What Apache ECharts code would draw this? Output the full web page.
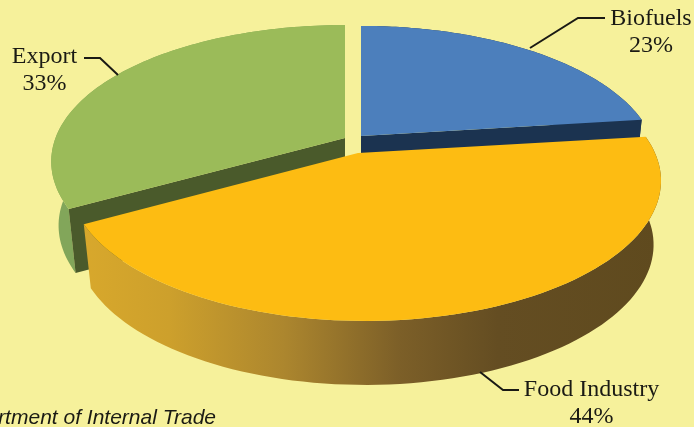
<!DOCTYPE html>
<html><head><meta charset="utf-8">
<style>html,body{margin:0;padding:0;background:#f6f19b}#c{width:694px;height:427px}</style>
<script src="https://cdn.jsdelivr.net/npm/echarts@6/dist/echarts.min.js"></script>
</head><body><div id="c"></div>
<script>
const categories = ['Biofuels', 'Food Industry', 'Export'];
const values = [23, 44, 33];
const drawOrder = [0, 2, 1];
const sourceText = 'Department of Internal Trade';

const topColors = ['#4c7fbc', '#fdbc12', '#9bbb59'];
const faceColors = ['#1b3350', null, '#4a5a2b'];
const centers = [[361, 136], [365, 153], [345, 138]];
const apexes = [[361, 136], [358, 153], [345, 138]];
const radiiX = [290, 290, 289.5];
const perspX = [0.2, 0.2, 0.17];
const radiiY = [133, 133, 134];
const perspY = [0.208, 0.208, 0.186];
const labelAnchors = [[651, 32], [591.5, 403], [44.5, 70]];
const leaders = [
  [[605, 18], [578, 18], [530, 48]],
  [[519, 390], [503, 390], [480, 372]],
  [[84, 58], [100, 58], [118, 75]]
];
const DEPTH = 64, INSET = 0.975;

function project(i, a) {
  const c = centers[i], u = Math.sin(a), v = -Math.cos(a);
  return [c[0] + radiiX[i] * u / (1 - perspX[i] * v), c[1] + radiiY[i] * v / (1 - perspY[i] * v)];
}
function lower(c, p) { return [c[0] + (p[0] - c[0]) * INSET, p[1] + DEPTH]; }
function arc(i, a0, a1) {
  const pts = [], n = 90;
  for (let k = 0; k <= n; k++) pts.push(project(i, a0 + (a1 - a0) * k / n));
  return pts;
}
const total = values.reduce((s, x) => s + x, 0);
const starts = []; let acc = 0;
values.forEach(x => { starts.push(acc / total * 2 * Math.PI); acc += x; });

function renderItem(params, api) {
  const i = api.value(0);
  const a0 = starts[i], a1 = a0 + values[i] / total * 2 * Math.PI;
  const c = centers[i], apex = apexes[i];
  const pts = arc(i, a0, a1);
  const bot = pts.map(p => lower(c, p));
  const wallFill = i === 1
    ? new echarts.graphic.LinearGradient(82, 0, 660, 0, [
        {offset: 0, color: '#d8a82c'}, {offset: 0.15, color: '#cda02c'},
        {offset: 0.35, color: '#ac862e'}, {offset: 0.55, color: '#7c5f28'},
        {offset: 0.72, color: '#644d22'}, {offset: 1, color: '#5f4a1e'}], true)
    : i === 2 ? '#82a65a' : '#1b3350';
  const apexLow = [apex[0], apex[1] + DEPTH];
  const children = [
    {type: 'polygon', shape: {points: pts.concat(bot.slice().reverse())}, style: {fill: wallFill}}
  ];
  if (faceColors[i]) {
    const k = i === 0 ? pts.length - 1 : 0;
    children.push({type: 'polygon', shape: {points: [apex, pts[k], bot[k], apexLow]}, style: {fill: faceColors[i]}});
  }
  children.push(
    {type: 'polygon', shape: {points: [apex].concat(pts)}, style: {fill: topColors[i]}},
    {type: 'polyline', shape: {points: leaders[i]}, style: {stroke: '#1a1a14', lineWidth: 2, fill: null}, z2: 50},
    {type: 'text', z2: 50, style: {
      x: labelAnchors[i][0], y: labelAnchors[i][1], text: categories[i] + '\n' + values[i] + '%',
      align: 'center', verticalAlign: 'middle', lineHeight: 27,
      font: '24px "Liberation Serif"', fill: '#1a1a14'}}
  );
  return {type: 'group', children};
}
const chart = echarts.init(document.getElementById('c'), null, {renderer: 'canvas'});
chart.setOption({
  animation: false,
  backgroundColor: '#f6f19b',
  series: [{type: 'custom', coordinateSystem: 'none', silent: true,
    renderItem, data: drawOrder.map(i => [i, values[i]])}],
  graphic: [{type: 'text', x: 216, y: 418, style: {
    text: sourceText, align: 'right', verticalAlign: 'middle',
    font: 'italic 21px "Liberation Sans"', fill: '#1a1a14'}}]
});
</script></body></html>
